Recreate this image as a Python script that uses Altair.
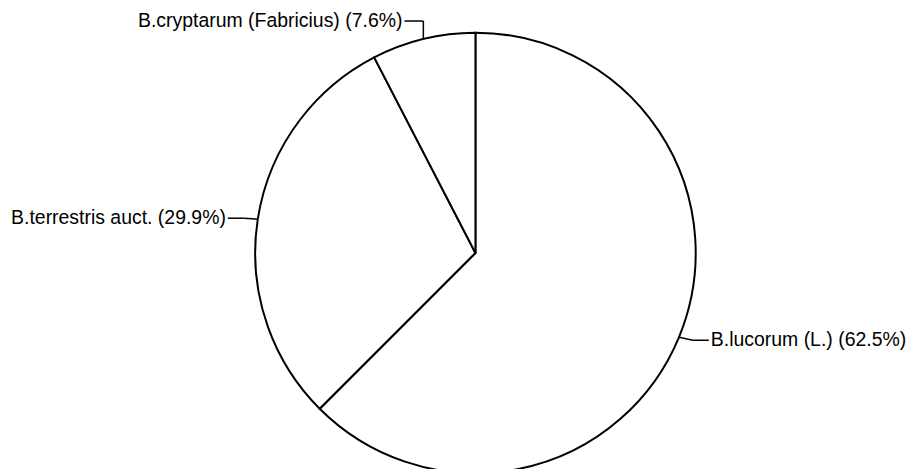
import math
import altair as alt
import pandas as pd

# ---- data ----
species = ["B.lucorum (L.)", "B.terrestris auct.", "B.cryptarum (Fabricius)"]
percent = [62.5, 29.9, 7.6]

# ---- layout (pixels inside the plot area) ----
W, H = 899, 453
CX, CY, R = 469, 245, 221
# leader-line bends relative to the point on the rim: list of (dx, dy)
LEADER = {
    "B.lucorum (L.)": [(14, 3), (30, 3)],
    "B.terrestris auct.": [(-14, -1), (-30, -1)],
    "B.cryptarum (Fabricius)": [(0, -18), (-19, -18)],
}

total = sum(percent)
rows, segs = [], []
cum = 0.0
for i, (name, p) in enumerate(zip(species, percent)):
    mid = (cum + p / 2) / total * 2 * math.pi
    cum += p
    px = CX + R * math.sin(mid)
    py = CY - R * math.cos(mid)
    pts = [(px, py)] + [(px + dx, py + dy) for dx, dy in LEADER[name]]
    for (x1, y1), (x2, y2) in zip(pts[:-1], pts[1:]):
        segs.append({"x": x1, "y": y1, "x2": x2, "y2": y2})
    ex, ey = pts[-1]
    side = "right" if math.sin(mid) >= 0 else "left"
    rows.append({
        "idx": i,
        "species": name,
        "value": p,
        "label": f"{name} ({p}%)",
        "tx": ex + (2 if side == "right" else -2),
        "ty": ey,
        "side": side,
    })

df = pd.DataFrame(rows)
seg_df = pd.DataFrame(segs)

pie = alt.Chart(df).mark_arc(
    radius=R, fill="white", stroke="black", strokeWidth=2
).encode(
    theta=alt.Theta("value:Q", stack=True),
    order=alt.Order("idx:Q"),
    x=alt.value(CX),
    y=alt.value(CY),
)

leaders = alt.Chart(seg_df).mark_rule(color="black", strokeWidth=1.5).encode(
    x=alt.X("x:Q", scale=None),
    y=alt.Y("y:Q", scale=None),
    x2="x2:Q",
    y2="y2:Q",
)

text_common = dict(font="Liberation Sans", fontSize=19.5, color="black", baseline="middle")
labels_right = alt.Chart(df).transform_filter(alt.datum.side == "right").mark_text(
    align="left", **text_common
).encode(
    x=alt.X("tx:Q", scale=None),
    y=alt.Y("ty:Q", scale=None),
    text="label:N",
)
labels_left = alt.Chart(df).transform_filter(alt.datum.side == "left").mark_text(
    align="right", **text_common
).encode(
    x=alt.X("tx:Q", scale=None),
    y=alt.Y("ty:Q", scale=None),
    text="label:N",
)

chart = alt.layer(pie, leaders, labels_right, labels_left).properties(
    width=W, height=H, padding=0, background="white"
).configure_view(stroke=None)

chart.save("out.html", embed_options={"renderer": "svg", "actions": False})
